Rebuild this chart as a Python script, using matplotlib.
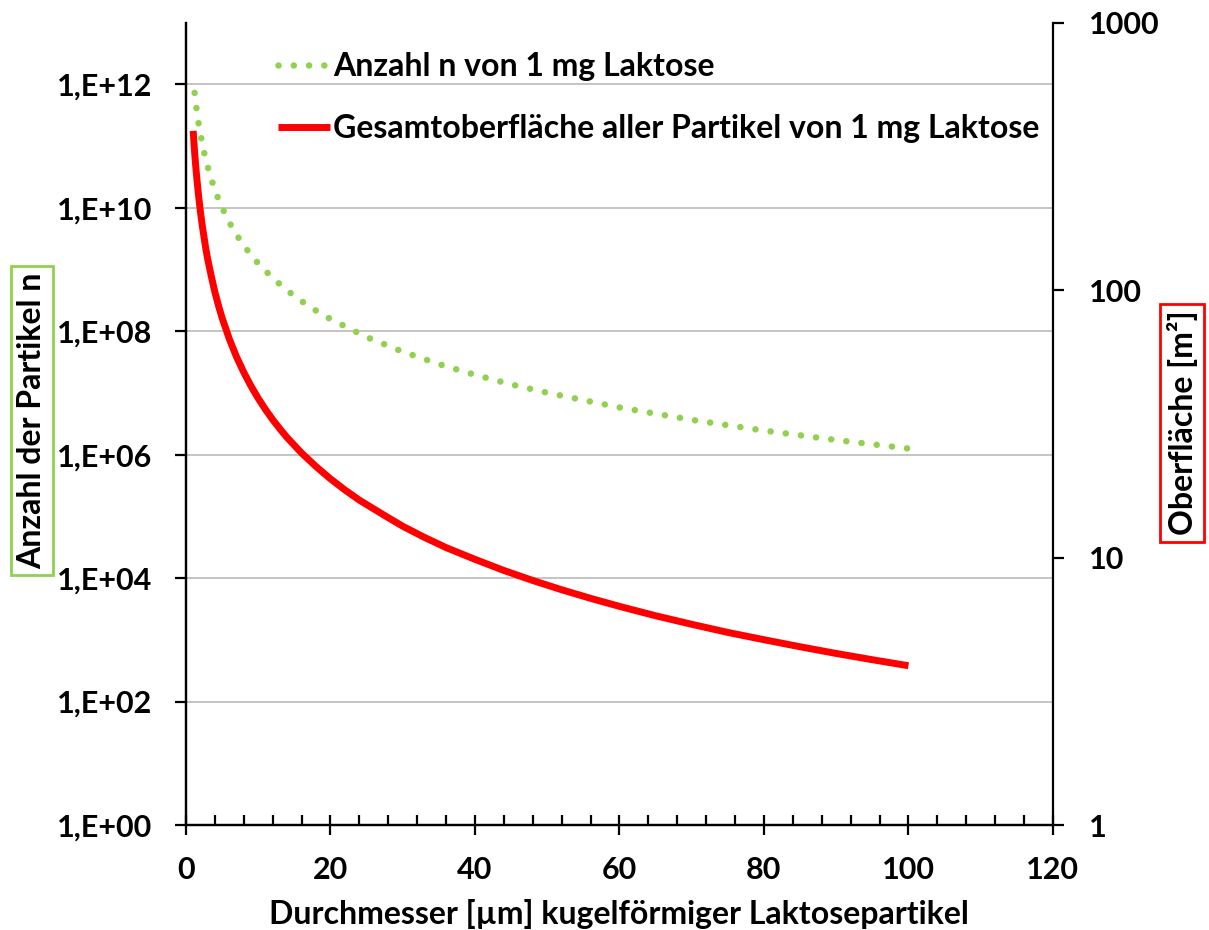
import matplotlib.pyplot as plt
from matplotlib.ticker import FixedLocator, NullLocator, MultipleLocator

plt.rcParams['font.family'] = ['Lato', 'DejaVu Sans']

# Anzahl n der Partikel (linke Achse)
d_n = [1.2, 1.3, 1.4, 1.5, 1.75, 2, 2.25, 2.5, 2.75, 3, 3.5, 4, 4.5, 5, 6, 7, 8, 9,
       10, 12, 14, 16, 18, 20, 25, 30, 35, 40, 45, 50, 60, 70, 80, 90, 100]
anzahl = [7.29e11, 5.74e11, 4.59e11, 3.73e11, 2.35e11, 1.58e11, 1.11e11, 8.06e10,
          6.06e10, 4.67e10, 2.94e10, 1.97e10, 1.38e10, 1.01e10, 5.83e9, 3.67e9,
          2.46e9, 1.73e9, 1.26e9, 7.29e8, 4.59e8, 3.08e8, 2.16e8, 1.58e8, 8.06e7,
          4.67e7, 2.94e7, 1.97e7, 1.38e7, 1.01e7, 5.83e6, 3.67e6, 2.46e6, 1.73e6,
          1.26e6]

# Gesamtoberflaeche [m2] (rechte Achse)
d_s = [1, 1.1, 1.2, 1.3, 1.4, 1.5, 1.75, 2, 2.25, 2.5, 2.75, 3, 3.5, 4, 4.5, 5, 6, 7,
       8, 9, 10, 11, 12, 13, 14, 15, 16, 18, 20, 22, 24, 26, 28, 30, 33, 36, 40, 44,
       48, 52, 56, 60, 65, 70, 75, 80, 85, 90, 95, 100]
flaeche = [394, 358, 328, 303, 281, 263, 225, 197, 175, 158, 143, 131, 113, 98.5,
           87.6, 78.8, 65.7, 56.3, 49.3, 43.8, 39.4, 35.8, 32.8, 30.3, 28.1, 26.3,
           24.6, 21.9, 19.7, 17.9, 16.4, 15.2, 14.1, 13.1, 11.9, 10.9, 9.85, 8.95,
           8.21, 7.58, 7.04, 6.57, 6.06, 5.63, 5.25, 4.93, 4.64, 4.38, 4.15, 3.94]

left_ticks = [1e0, 1e2, 1e4, 1e6, 1e8, 1e10, 1e12]
left_labels = ['1,E+00', '1,E+02', '1,E+04', '1,E+06', '1,E+08', '1,E+10', '1,E+12']
right_ticks = [1, 10, 100, 1000]
right_labels = ['1', '10', '100', '1000']
x_ticks = [0, 20, 40, 60, 80, 100, 120]

green = '#92D050'
red = '#FF0000'

fig = plt.figure(figsize=(12.09, 9.3), dpi=100)
ax = fig.add_axes([0.1538, 0.1129, 0.7171, 0.8627])
ax2 = ax.twinx()

l1, = ax.plot(d_n, anzahl, color=green, lw=4.7, linestyle=(0, (0.01, 2.33)),
              dash_capstyle='round', label='Anzahl n von 1 mg Laktose')
l2, = ax2.plot(d_s, flaeche, color=red, lw=5, solid_capstyle='butt',
               label='Gesamtoberfläche aller Partikel von 1 mg Laktose')

ax.set_yscale('log')
ax.set_ylim(1, 1e13)
ax2.set_yscale('log')
ax2.set_ylim(1, 1000)
ax.set_xlim(0, 120)

ax.yaxis.set_major_locator(FixedLocator(left_ticks))
ax.set_yticklabels(left_labels)
ax.yaxis.set_minor_locator(NullLocator())
ax2.yaxis.set_major_locator(FixedLocator(right_ticks))
ax2.set_yticklabels(right_labels)
ax2.yaxis.set_minor_locator(NullLocator())
ax.xaxis.set_major_locator(FixedLocator(x_ticks))
ax.xaxis.set_minor_locator(MultipleLocator(4))

for a in (ax, ax2):
    a.spines['top'].set_visible(False)
    for s in a.spines.values():
        s.set_linewidth(1.6)
ax.spines['right'].set_visible(False)

ax.grid(True, axis='y', which='major', color='#BFBFBF', lw=1.3)
ax.set_axisbelow(True)

ax.tick_params(axis='y', which='major', direction='out', length=8, width=1.6,
               labelsize=22, pad=16)
ax2.tick_params(axis='y', which='major', direction='out', length=8, width=1.6,
                labelsize=22, pad=18)
ax.tick_params(axis='x', which='major', direction='inout', length=14, width=1.6,
               labelsize=22, pad=15)
ax.tick_params(axis='x', which='minor', direction='in', length=7, width=1.6)
for lab in ax.get_yticklabels() + ax2.get_yticklabels() + ax.get_xticklabels():
    lab.set_fontweight('bold')

ax.set_xlabel('Durchmesser [µm] kugelförmiger Laktosepartikel', fontsize=23,
              fontweight='bold', labelpad=11)
ax.set_ylabel('Anzahl der Partikel n', fontsize=23, fontweight='bold',
              bbox=dict(boxstyle='square,pad=0.2', fc='none', ec=green, lw=2))
ax.yaxis.label.set_va('center')
ax.yaxis.set_label_coords(-0.178, 0.504)
ax2.set_ylabel('Oberfläche [m²]', fontsize=23, fontweight='bold',
               bbox=dict(boxstyle='square,pad=0.2', fc='none', ec=red, lw=2))
ax2.yaxis.label.set_va('center')
ax2.yaxis.set_label_coords(1.149, 0.501)

ax2.legend(handles=[l1, l2], loc='upper left', bbox_to_anchor=(0.073, 0.999),
           frameon=False, prop={'weight': 'bold', 'size': 23},
           handlelength=1.63, handletextpad=0.1, labelspacing=1.04)

fig.savefig('out.png', dpi=100)
